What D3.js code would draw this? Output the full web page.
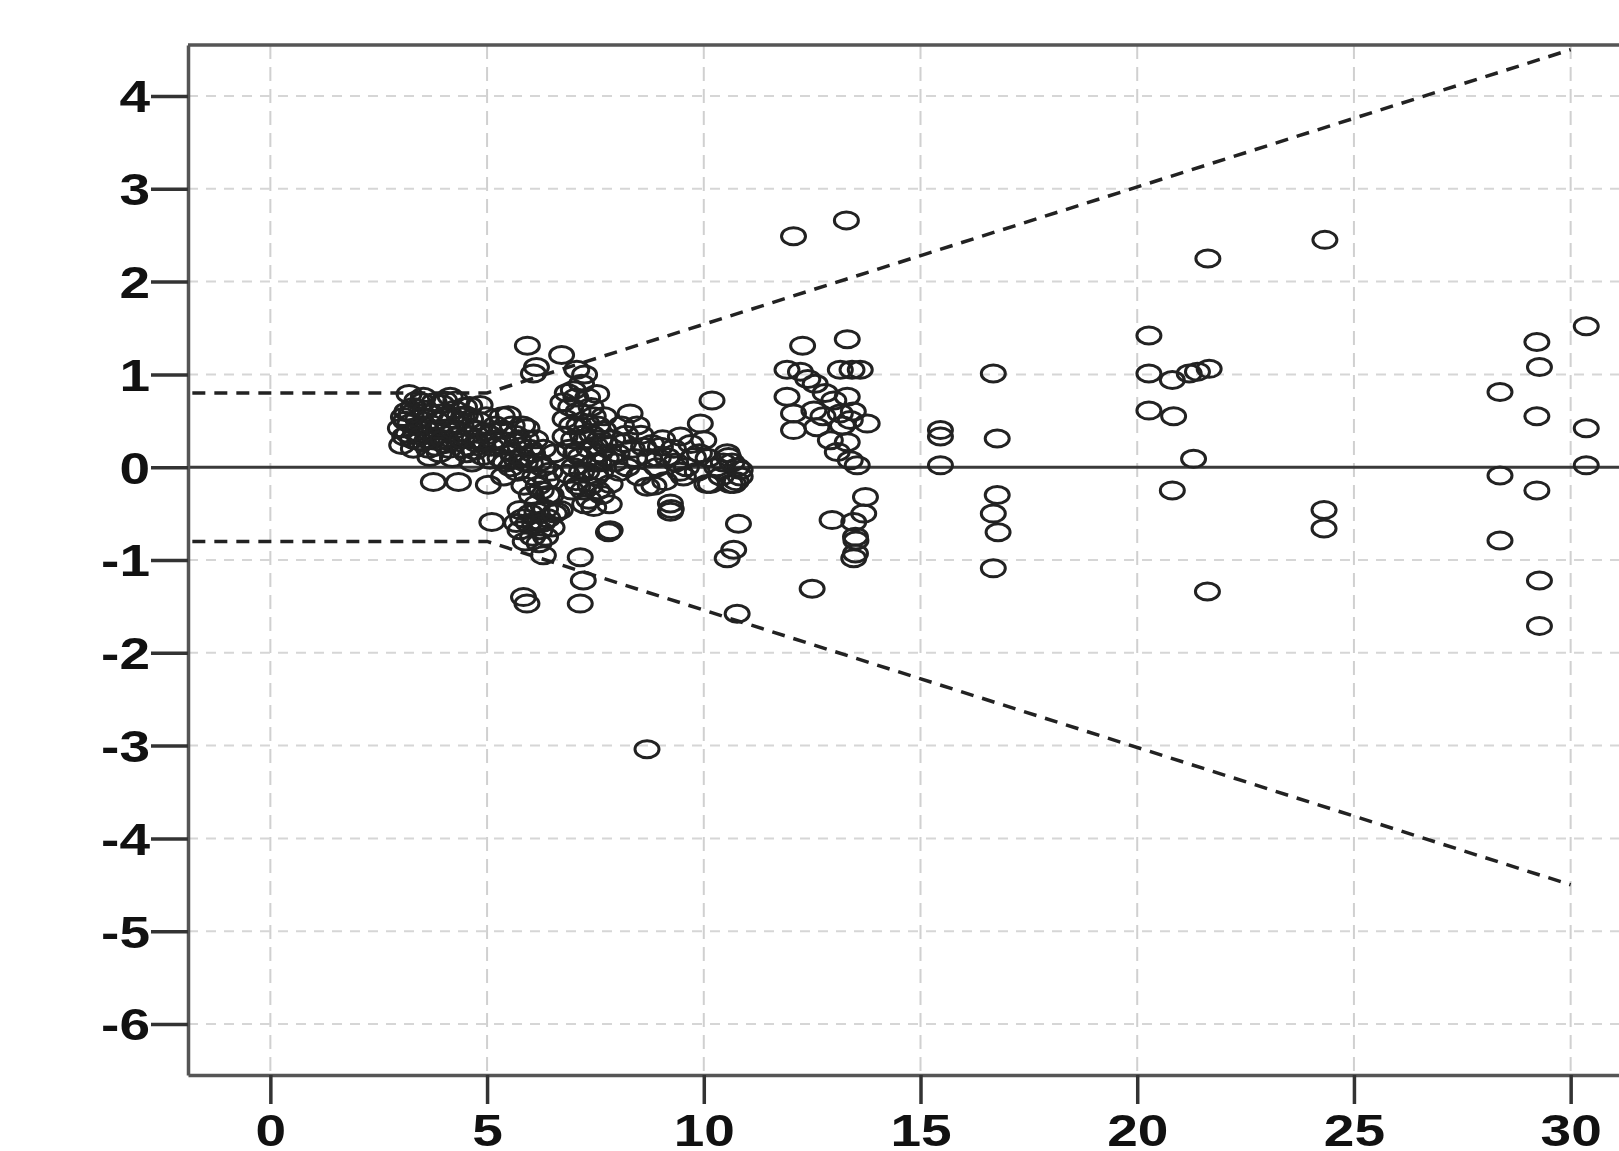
<!DOCTYPE html>
<html>
<head>
<meta charset="utf-8">
<script src="https://cdn.jsdelivr.net/npm/d3@7/dist/d3.min.js"></script>
<style>
  html, body { margin: 0; padding: 0; background: #fff; overflow: hidden; }
  svg { display: block; }
</style>
</head>
<body>
<div id="chart"></div>
<script>
// tick values
const xTicks = [0, 5, 10, 15, 20, 25, 30];
const yTicks = [-6, -5, -4, -3, -2, -1, 0, 1, 2, 3, 4];

// limits of agreement (dashed): horizontal then widening
const limitX = [-1.8, 5, 30];
const limitUpper = [0.8, 0.8, 4.5];
const limitLower = [-0.8, -0.8, -4.5];

// points, grouped by region [x, y]
const groupA = [
  [3.0,0.42],[3.03,0.24],[3.07,0.54],[3.1,0.33],[3.15,0.6],[3.2,0.79],[3.22,0.47],[3.3,0.2],
  [3.3,0.65],[3.35,0.38],[3.4,0.52],[3.45,0.28],[3.5,0.7],[3.53,0.76],[3.55,0.45],[3.6,0.4],
  [3.65,0.2],[3.68,0.11],[3.7,0.58],[3.76,-0.16],[3.8,0.33],[3.85,0.5],[3.9,0.15],[3.95,0.68],
  [4.0,0.54],[4.05,0.25],[4.07,0.29],[4.1,0.42],[4.15,0.76],[4.18,0.52],[4.2,0.1],[4.25,0.62],
  [4.3,0.33],[4.34,-0.16],[4.4,0.45],[4.45,0.2],[4.5,0.56],[4.53,0.15],[4.6,0.43],[4.6,0.66],
  [4.65,0.05],[4.7,0.3],[4.76,0.26],[4.8,0.5],[4.84,0.67],[4.9,0.12],[4.95,0.38],[5.03,-0.19],
  [5.07,0.08],[5.1,0.22],[5.15,0.29],[5.2,0.45],[5.3,0.1],[5.38,0.4],[5.38,-0.1],[5.45,0.25],
  [5.49,0.56],[5.55,0.0],[5.6,0.15],[5.65,0.35],
  [3.12,0.5],[3.18,0.36],[3.25,0.58],[3.28,0.3],[3.38,0.72],[3.42,0.44],[3.48,0.34],[3.58,0.62],
  [3.62,0.3],[3.72,0.46],[3.78,0.7],[3.82,0.22],[3.88,0.4],[3.92,0.58],[3.98,0.3],[4.02,0.72],
  [4.12,0.2],[4.22,0.4],[4.28,0.72],[4.36,0.55],[4.42,0.3],[4.48,0.65],[4.56,0.35],[4.62,0.52],
  [4.72,0.18],[4.78,0.4],[4.88,0.28],[4.98,0.55],[5.05,0.35],[5.25,0.3],[5.35,0.55],[5.42,0.05],
  [5.58,0.45],[5.68,0.08]
];
const groupB = [
  [5.93,1.31],[6.07,1.01],[6.14,1.08],[5.92,0.42],[5.76,0.22],[6.0,0.04],[5.7,-0.05],[5.8,0.1],
  [5.85,-0.2],[5.9,0.3],[6.05,0.15],[6.1,-0.1],[6.2,0.05],[6.25,-0.25],[6.3,0.2],[6.38,-0.14],
  [6.4,-0.3],[6.15,-0.4],[5.76,-0.46],[6.15,-0.48],[6.61,-0.48],[5.76,-0.68],[6.22,-0.68],
  [5.95,-0.6],[6.05,-0.75],[6.4,-0.55],[6.3,-0.95],[6.2,-0.82],[5.11,-0.59],[5.84,-1.4],
  [5.92,-1.47],[6.69,-0.46],[6.5,-0.65],[6.45,-0.05],[6.55,0.15],
  [5.72,0.3],[5.82,0.45],[5.88,0.05],[5.98,0.2],[6.02,-0.3],[6.12,0.3],[6.18,-0.2],[6.28,0.0],
  [6.35,-0.45],[6.48,-0.3],[5.82,-0.55],[5.88,-0.8],[6.0,-0.5],[6.1,-0.62],[6.28,-0.6],[6.35,-0.75],
  [5.68,-0.6],[6.55,-0.5]
];
const groupC = [
  [6.72,1.21],[7.07,1.05],[7.25,1.0],[6.99,0.83],[7.53,0.79],[6.75,0.7],[6.93,0.65],[6.8,0.52],
  [6.8,0.33],[7.3,0.47],[7.69,0.4],[7.15,0.11],[7.58,0.05],[6.84,-0.07],[7.22,-0.25],[7.84,-0.18],
  [7.46,-0.43],[7.84,-0.68],[7.8,-0.7],[7.5,0.23],[7.0,0.3],[7.1,0.6],[7.4,0.65],[7.2,0.35],
  [7.35,0.2],[7.45,0.55],[7.6,0.3],[7.7,0.55],[7.0,0.0],[7.3,-0.05],[7.5,-0.1],[7.65,-0.3],
  [7.35,-0.35],[7.1,-0.2],[7.6,0.15],[7.75,0.1],[7.9,0.3],[7.15,-0.97],[7.22,-1.22],[7.15,-1.47],
  [7.05,-0.15],[6.9,0.2],
  [6.85,0.8],[6.95,0.45],[7.05,0.75],[7.12,0.45],[7.18,0.9],[7.28,0.3],[7.32,0.75],[7.42,0.35],
  [7.48,0.05],[7.55,0.45],[7.62,-0.05],[7.72,0.25],[7.38,-0.2],[7.18,-0.05],[6.95,-0.25],[7.25,-0.4],
  [7.55,-0.25],[7.82,-0.4],[7.95,0.05],[7.05,0.15]
];
const groupD = [
  [8.3,0.58],[8.46,0.45],[8.15,0.26],[8.61,0.22],[9.0,0.22],[9.46,0.33],[9.76,0.11],[10.19,0.72],
  [9.92,0.47],[10.0,0.29],[10.54,0.15],[10.07,-0.18],[10.69,-0.18],[9.53,-0.1],[8.69,-0.21],
  [9.23,-0.39],[9.23,-0.48],[8.23,0.0],[8.92,0.0],[9.15,0.11],[8.0,0.15],[8.4,0.1],[8.05,-0.05],
  [8.75,0.1],[9.3,0.2],[9.6,0.0],[9.9,0.15],[10.3,0.0],[10.57,0.11],[10.77,0.0],[10.15,-0.18],
  [10.61,-0.18],[10.84,-0.1],[10.84,-0.03],[10.4,-0.1],[8.5,-0.1],[8.2,0.35],[9.1,-0.15],
  [10.8,-0.61],[10.69,-0.89],[10.54,-0.98],[10.77,-1.58],[8.69,-3.04],
  [8.1,0.45],[8.35,0.2],[8.55,0.35],[8.8,0.25],[8.95,0.1],[9.05,0.3],[9.35,0.05],[9.45,-0.05],
  [9.7,0.25],[9.85,-0.05],[10.1,0.1],[10.45,0.05],[10.65,0.05],[10.75,-0.15],[8.85,-0.2],[9.25,-0.45]
];
const groupE = [
  [12.07,2.49],[13.29,2.66],[12.28,1.31],[13.31,1.38],[11.92,1.05],[12.23,1.03],[12.57,0.9],
  [13.15,1.05],[13.42,1.05],[13.61,1.05],[11.92,0.76],[12.07,0.58],[12.07,0.4],[12.54,0.61],
  [12.61,0.43],[13.0,0.72],[13.15,0.58],[13.31,0.76],[13.38,0.51],[13.77,0.47],[12.92,0.29],
  [13.08,0.165],[13.38,0.075],[13.54,0.02],[13.31,0.27],[12.4,0.95],[12.8,0.8],[13.2,0.45],
  [13.45,0.6],[12.75,0.55],[13.73,-0.32],[13.69,-0.5],[12.96,-0.57],[13.46,-0.59],[13.5,-0.75],
  [13.51,-0.79],[13.46,-0.98],[13.5,-0.93],[12.5,-1.31]
];
const groupF = [
  [15.46,0.4],[15.46,0.33],[15.46,0.02],[16.68,1.01],[16.77,0.31],[16.77,-0.3],[16.68,-0.5],
  [16.79,-0.7],[16.68,-1.09]
];
const groupG = [
  [20.27,1.42],[20.27,1.01],[20.81,0.94],[21.2,1.01],[21.39,1.03],[21.66,1.06],[20.27,0.61],
  [20.84,0.55],[21.3,0.09],[20.81,-0.25],[21.62,-1.34],[21.63,2.25]
];
const groupH = [[24.33,2.45],[24.31,-0.46],[24.31,-0.66]];
const groupI = [
  [30.36,1.52],[29.22,1.35],[29.28,1.08],[28.37,0.81],[29.22,0.55],[30.36,0.42],[30.36,0.02],
  [28.37,-0.09],[29.22,-0.25],[28.37,-0.79],[29.28,-1.22],[29.28,-1.71]
];

const points = [].concat(groupA, groupB, groupC, groupD, groupE, groupF, groupG, groupH, groupI);

const width = 1619, height = 1151;
const plotLeft = 188, plotTop = 45, plotBottom = 1075, plotRight = 1640;

const svg = d3.select('#chart').append('svg')
    .attr('width', width)
    .attr('height', height);

const x = d3.scaleLinear().domain([-1.9, 31.6]).range([plotLeft, plotRight]);
const y = d3.scaleLinear().domain([-6.55, 4.55]).range([plotBottom, plotTop]);

const labelFont = '"Liberation Sans", Arial, sans-serif';

// grid
svg.append('g')
    .selectAll('line')
    .data(xTicks)
    .join('line')
    .attr('x1', d => x(d)).attr('x2', d => x(d))
    .attr('y1', plotTop).attr('y2', plotBottom)
    .attr('stroke', '#d0d0d0')
    .attr('stroke-width', 2)
    .attr('stroke-dasharray', '14,8');

svg.append('g')
    .selectAll('line')
    .data(yTicks.filter(d => d !== 0))
    .join('line')
    .attr('x1', plotLeft).attr('x2', plotRight)
    .attr('y1', d => y(d)).attr('y2', d => y(d))
    .attr('stroke', '#d6d6d6')
    .attr('stroke-width', 2)
    .attr('stroke-dasharray', '10,8');

// zero line
svg.append('line')
    .attr('x1', plotLeft).attr('x2', plotRight)
    .attr('y1', y(0)).attr('y2', y(0))
    .attr('stroke', '#3a3a3a')
    .attr('stroke-width', 3);

// limit lines
const limitLine = d3.line().x(d => x(d[0])).y(d => y(d[1]));
[limitUpper, limitLower].forEach(vals => {
    svg.append('path')
        .datum(limitX.map((v, i) => [v, vals[i]]))
        .attr('d', limitLine)
        .attr('fill', 'none')
        .attr('stroke', '#222')
        .attr('stroke-width', 3.5)
        .attr('stroke-dasharray', '13,9');
});

// points
svg.append('g')
    .selectAll('ellipse')
    .data(points)
    .join('ellipse')
    .attr('cx', d => x(d[0]))
    .attr('cy', d => y(d[1]))
    .attr('rx', 12)
    .attr('ry', 8.5)
    .attr('fill', 'none')
    .attr('stroke', '#222')
    .attr('stroke-width', 3);

// top border
svg.append('line')
    .attr('x1', plotLeft).attr('x2', plotRight)
    .attr('y1', plotTop).attr('y2', plotTop)
    .attr('stroke', '#555')
    .attr('stroke-width', 3.5);

// axes
const yAxis = svg.append('g')
    .attr('transform', `translate(${plotLeft},0)`)
    .call(d3.axisLeft(y).tickValues(yTicks).tickFormat(d => String(d))
        .tickSize(37).tickSizeOuter(0));

const xAxis = svg.append('g')
    .attr('transform', `translate(0,${plotBottom})`)
    .call(d3.axisBottom(x).tickValues(xTicks).tickFormat(d => String(d))
        .tickSize(29).tickSizeOuter(0));

[yAxis, xAxis].forEach(g => {
    g.select('.domain').attr('stroke', '#555').attr('stroke-width', 3.5);
    g.selectAll('.tick line').attr('stroke', '#333').attr('stroke-width', 3.5);
    g.selectAll('.tick text')
        .attr('font-family', labelFont)
        .attr('font-weight', 'bold')
        .attr('font-size', 44)
        .attr('fill', '#111');
});

// labels in the picture look stretched sideways
yAxis.selectAll('.tick text')
    .attr('x', 0)
    .attr('dy', '0.36em')
    .attr('transform', 'translate(-38,0) scale(1.25,1)');
xAxis.selectAll('.tick text')
    .attr('y', 0)
    .attr('transform', 'translate(0,40) scale(1.25,1)');
</script>
</body>
</html>
